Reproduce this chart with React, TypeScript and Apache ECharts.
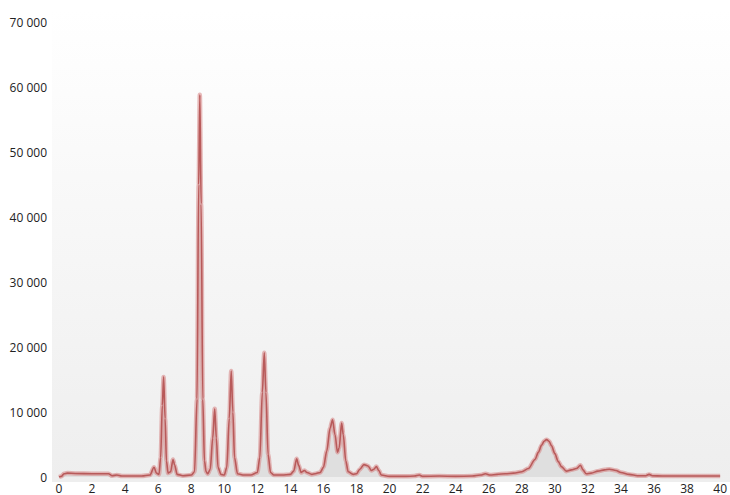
import React, { useEffect, useRef } from "react";
import * as echarts from "echarts";

const retentionTimes = [
  0, 0.15, 0.3, 0.5, 1.0, 2.0, 3.0, 3.2, 3.5, 3.8, 4.5, 5.0, 5.5, 5.75, 5.9, 6.05,
  6.15, 6.25, 6.33, 6.42, 6.5, 6.6, 6.75, 6.9, 7.0, 7.15, 7.5, 8.0, 8.2, 8.35, 8.45,
  8.52, 8.6, 8.7, 8.8, 8.9, 9.0, 9.15, 9.3, 9.42, 9.52, 9.62, 9.8, 10.0, 10.15, 10.3,
  10.42, 10.52, 10.62, 10.8, 11.2, 11.6, 12.0, 12.15, 12.3, 12.42, 12.52, 12.65, 12.8,
  13.0, 13.5, 14.0, 14.2, 14.38, 14.5, 14.65, 14.85, 15.0, 15.3, 15.5, 15.8, 16.0,
  16.2, 16.4, 16.55, 16.7, 16.85, 16.95, 17.1, 17.2, 17.35, 17.5, 17.8, 18.0, 18.2,
  18.45, 18.7, 18.9, 19.05, 19.2, 19.35, 19.5, 20.0, 21.0, 21.5, 21.8, 22.0, 23.0,
  24.0, 25.0, 25.5, 25.8, 26.1, 26.5, 27.0, 27.5, 28.0, 28.4, 28.8, 29.0, 29.2, 29.35,
  29.5, 29.65, 29.8, 30.0, 30.2, 30.4, 30.7, 31.0, 31.3, 31.55, 31.7, 31.9, 32.2,
  32.6, 33.0, 33.3, 33.7, 34.0, 34.5, 35.0, 35.5, 35.7, 35.9, 36.5, 38.0, 40.0,
];

const signal = [
  0, 100, 500, 600, 550, 500, 500, 200, 300, 150, 150, 150, 300, 1500, 600, 400,
  3000, 11000, 15400, 9000, 2500, 600, 800, 2700, 1800, 400, 200, 300, 800, 12000, 45000,
  58800, 42000, 12000, 2500, 800, 500, 1200, 6000, 10500, 6000, 1500, 400, 300, 1500, 9000,
  16300, 10000, 3000, 500, 300, 300, 700, 3000, 13000, 19100, 13000, 3500, 700,
  300, 300, 400, 900, 2800, 1800, 700, 1000, 700, 400, 500, 700, 1500,
  4000, 7500, 8800, 6500, 3800, 4500, 8300, 6500, 2500, 800, 400, 500, 1200,
  1900, 1700, 1000, 1200, 1600, 1000, 300, 100, 100, 150, 300, 100, 150,
  100, 150, 300, 500, 300, 400, 500, 600, 800, 1300, 2700, 3800, 4900, 5500,
  5750, 5500, 4800, 3600, 2400, 1600, 900, 1100, 1300, 1800, 1100, 500, 600,
  900, 1100, 1200, 1000, 700, 400, 200, 200, 400, 200, 150, 150, 150,
];

const xTicks = { min: 0, max: 40, interval: 2 };
const yTicks = { min: 0, max: 70000, interval: 10000 };

const fmtThousands = (v: number) =>
  String(v).replace(/\B(?=(\d{3})+(?!\d))/g, " ");

export default function App() {
  const ref = useRef<HTMLDivElement>(null);

  useEffect(() => {
    if (!ref.current) return;
    const chart = echarts.init(ref.current, null, { renderer: "svg" });
    const points = retentionTimes.map((t, i) => [t, signal[i]]);
    const font = "'Open Sans', 'DejaVu Sans', sans-serif";

    chart.setOption({
      animation: false,
      backgroundColor: "#ffffff",
      graphic: [
        {
          type: "rect",
          z: -10,
          shape: { x: 52, y: 10, width: 678, height: 472 },
          style: {
            fill: new echarts.graphic.LinearGradient(0, 0, 0, 1, [
              { offset: 0, color: "#ffffff" },
              { offset: 1, color: "#eeeeee" },
            ]),
          },
          silent: true,
        },
      ],
      grid: { left: 59, right: 6, top: 22, bottom: 18, containLabel: false },
      xAxis: {
        type: "value",
        min: xTicks.min,
        max: xTicks.max,
        interval: xTicks.interval,
        axisLine: { show: false },
        axisTick: { show: false },
        splitLine: { show: false },
        axisLabel: {
          color: "#222",
          fontSize: 12,
          fontFamily: font,
          margin: 5,
          showMaxLabel: true,
        },
      },
      yAxis: {
        type: "value",
        min: yTicks.min,
        max: yTicks.max,
        interval: yTicks.interval,
        axisLine: { show: false },
        axisTick: { show: false },
        splitLine: { show: false },
        axisLabel: {
          color: "#222",
          fontSize: 12,
          fontFamily: font,
          margin: 12,
          formatter: (v: number) => fmtThousands(v),
        },
      },
      series: [
        {
          type: "line",
          data: points,
          smooth: 0.3,
          smoothMonotone: "x",
          showSymbol: false,
          silent: true,
          lineStyle: { color: "rgba(214,130,130,0.55)", width: 4.5 },
          areaStyle: { color: "rgba(170,170,170,0.32)", origin: "start" },
          z: 2,
        },
        {
          type: "line",
          data: points,
          smooth: 0.3,
          smoothMonotone: "x",
          showSymbol: false,
          silent: true,
          lineStyle: { color: "#b85a5a", width: 1.6 },
          z: 3,
        },
      ],
    });

    return () => chart.dispose();
  }, []);

  return (
    <div
      ref={ref}
      style={{ position: "absolute", left: 0, top: 0, width: 730, height: 495 }}
    />
  );
}
